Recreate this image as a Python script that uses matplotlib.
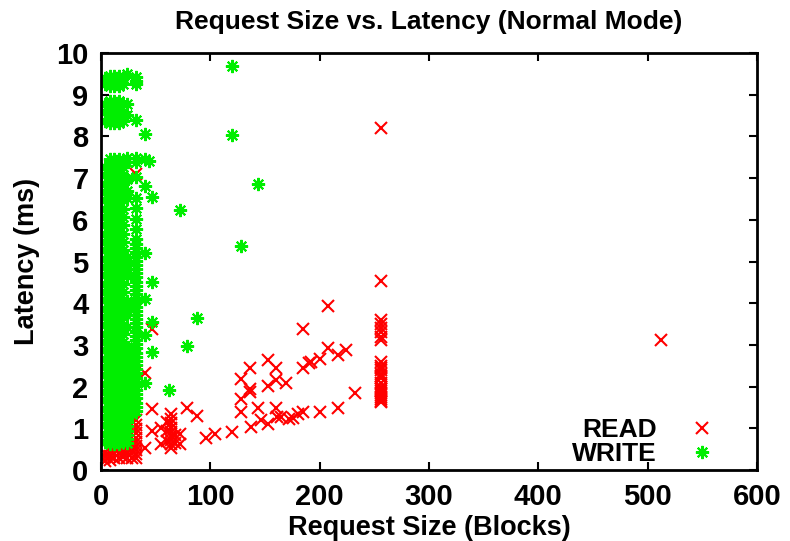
import matplotlib
matplotlib.use("Agg")
import matplotlib.pyplot as plt

# READ requests: (size in blocks, latency in ms)
read_x = [
    4, 4, 4, 8, 8, 8, 8, 12, 12, 12, 16, 16, 16, 16, 20, 20, 20, 24, 24, 24, 24, 28, 28, 28,
    32, 32, 32, 32, 32, 32, 32, 32, 32, 32, 16, 32,
    40, 40, 47, 47, 47, 55, 55, 60, 60, 60, 64, 64, 64, 64, 64, 64, 64, 64, 64, 68, 68,
    72, 72, 79, 88, 96, 104, 120,
    128, 128, 128, 136, 136, 136, 137, 144, 146, 153, 153, 153, 160, 160, 160, 161,
    165, 169, 172, 176, 180, 185, 185, 185, 190, 192, 200, 200, 208, 208, 217, 217, 224, 232,
    256, 256, 256, 256, 256, 256, 256, 256, 256, 256, 256, 256, 256, 256, 256, 256, 256,
    256, 256, 256, 256, 256, 256, 256, 256,
    512,
]
read_y = [
    0.22, 0.32, 0.42, 0.25, 0.35, 0.45, 0.55, 0.28, 0.4, 0.5, 0.3, 0.42, 0.52, 0.6, 0.32, 0.45, 0.58,
    0.3, 0.42, 0.55, 0.62, 0.3, 0.45, 0.6,
    0.28, 0.38, 0.48, 0.58, 0.68, 0.78, 0.88, 0.98, 1.08, 7.1, 1.0, 1.2,
    2.32, 0.52, 3.38, 1.46, 0.95, 1.02, 0.62, 0.7, 0.95, 1.15, 0.52, 0.62, 0.72, 0.82, 0.92,
    1.02, 1.12, 1.22, 1.35, 0.65, 0.85,
    0.87, 0.63, 1.5, 1.3, 0.78, 0.87, 0.92,
    2.18, 1.7, 1.4, 2.45, 1.95, 1.88, 1.03, 1.5, 1.2, 2.65, 2.01, 1.1, 2.44, 2.17, 1.5, 1.27,
    1.27, 2.09, 1.23, 1.26, 1.34, 3.38, 2.44, 1.39, 2.56, 2.6, 2.66, 1.39, 3.93, 2.92,
    2.76, 1.5, 2.89, 1.84,
    8.2, 4.53, 3.6, 3.5, 3.4, 3.3, 3.2, 3.12, 2.6, 2.5, 2.4, 2.3, 2.2, 2.1, 2.0, 1.95,
    1.9, 1.85, 1.8, 1.75, 1.7, 1.66, 1.64, 2.45, 2.25,
    3.12,
]

# WRITE requests, grouped by size column where they pile up
write_cols = [8, 12, 16]
write_block_y = [
    0.62, 0.72, 0.82, 0.92, 1.02, 1.12, 1.22, 1.32, 1.42, 1.52, 1.62, 1.72, 1.82, 1.92,
    2.02, 2.12, 2.22, 2.32, 2.42, 2.52, 2.62, 2.72, 2.82, 2.92, 3.02, 3.12, 3.22, 3.32,
    3.42, 3.52, 3.62, 3.72, 3.82, 3.92, 4.02, 4.12, 4.22, 4.32, 4.42, 4.52, 4.62, 4.72,
    4.82, 4.92, 5.02, 5.12, 5.22, 5.32, 5.42, 5.52, 5.62, 5.72, 5.82, 5.92, 6.02, 6.12,
    6.22, 6.32, 6.42, 6.52, 6.62, 6.72, 6.82, 6.92, 7.02, 7.12, 7.22, 7.32, 7.45,
    8.33, 8.43, 8.53, 8.63, 8.73, 8.85, 9.2, 9.3, 9.45,
]
write_mid_cols = [4, 20]
write_mid_y = [
    0.67, 0.87, 1.07, 1.27, 1.47, 1.67, 1.87, 2.07, 2.27, 2.47, 2.67, 2.87, 3.07, 3.27,
    3.47, 3.67, 3.87, 4.07, 4.27, 4.47, 4.67, 4.87, 5.07, 5.27, 5.47, 5.67, 5.87, 6.07,
    6.27, 6.47, 6.67, 6.87, 7.07, 7.27, 8.38, 8.58, 8.78, 9.25, 9.4,
]
write_24_y = [
    9.5, 8.78, 8.52, 7.48, 7.38, 6.98, 6.68, 6.52, 5.12, 4.98, 4.82, 4.66, 4.06, 3.88,
    3.72, 3.42, 2.95, 2.85, 2.75, 2.65, 2.55, 2.45, 2.35, 2.25, 2.15, 2.05, 1.95, 1.85,
    1.75, 1.65, 1.55, 1.45, 1.35, 1.25, 1.15, 1.05, 0.95, 0.85, 0.75, 0.65,
]
write_28_y = [2.9, 2.7, 2.5, 2.3, 2.1, 1.9, 1.7, 1.5, 1.35]
write_32_y = [
    9.42, 9.32, 9.25, 8.4, 7.48, 7.38, 7.02, 6.52, 6.28, 6.02, 5.78, 5.55, 5.42, 5.32,
    5.22, 5.12, 5.02, 4.92, 4.82, 4.72, 4.62, 4.52, 4.42, 4.32, 4.22, 4.12, 4.02, 3.92,
    3.82, 3.72, 3.62, 3.52, 3.42, 3.32, 3.22, 3.12, 3.02, 2.92, 2.82, 2.72, 2.62, 2.52,
    2.42, 2.32, 2.22, 2.12, 2.02, 1.92, 1.82, 1.72, 1.62, 1.52, 1.42,
]
write_x = [40, 40, 44, 40, 40, 40, 40, 40, 47, 47, 47, 47, 62, 72, 79, 88, 120, 120, 128, 144]
write_y = [8.05, 7.45, 7.4, 6.82, 5.2, 4.1, 3.24, 2.1, 6.55, 4.5, 3.56, 2.84, 1.92, 6.24,
           2.98, 3.64, 9.7, 8.04, 5.38, 6.86]

# collect every WRITE point
all_wx, all_wy = [], []
for c in write_cols:
    all_wx += [c] * len(write_block_y)
    all_wy += write_block_y
for c in write_mid_cols:
    all_wx += [c] * len(write_mid_y)
    all_wy += write_mid_y
all_wx += [24] * len(write_24_y)
all_wy += write_24_y
all_wx += [28] * len(write_28_y)
all_wy += write_28_y
all_wx += [32] * len(write_32_y)
all_wy += write_32_y
all_wx += write_x
all_wy += write_y

plt.rcParams["font.family"] = ["Liberation Sans", "DejaVu Sans"]

fig = plt.figure(figsize=(7.9, 5.41), dpi=100)
ax = fig.add_axes([0.128, 0.131, 0.83, 0.771])

ax.plot(read_x, read_y, linestyle="none", marker="x", markersize=8,
        markeredgewidth=1.5, color="#ff0000", label="READ")
ax.plot(all_wx, all_wy, linestyle="none", marker=(8, 2, 0), markersize=9.5,
        markeredgewidth=1.5, color="#00ee00", label="WRITE")

ax.set_xlim(0, 600)
ax.set_ylim(0, 10)
ax.set_xticks([0, 100, 200, 300, 400, 500, 600])
ax.set_yticks(range(0, 11))

for s in ax.spines.values():
    s.set_linewidth(2)
ax.tick_params(direction="in", length=6, width=1.5, top=True, right=True,
               labelsize=21, pad=9)
for lab in ax.get_xticklabels() + ax.get_yticklabels():
    lab.set_fontweight("bold")

ax.set_title("Request Size vs. Latency (Normal Mode)", fontsize=19, fontweight="bold", pad=17)
ax.set_xlabel("Request Size (Blocks)", fontsize=19.5, fontweight="bold", labelpad=3)
ax.set_ylabel("Latency (ms)", fontsize=19.5, fontweight="bold", labelpad=12)

leg = ax.legend(loc="lower right", bbox_to_anchor=(0.957, 0.01), markerfirst=False,
                frameon=False, fontsize=19, handlelength=2.0, handletextpad=0.73,
                labelspacing=0.0, borderpad=0, borderaxespad=0)
for t in leg.get_texts():
    t.set_fontweight("bold")

fig.savefig("out.png", dpi=100)
